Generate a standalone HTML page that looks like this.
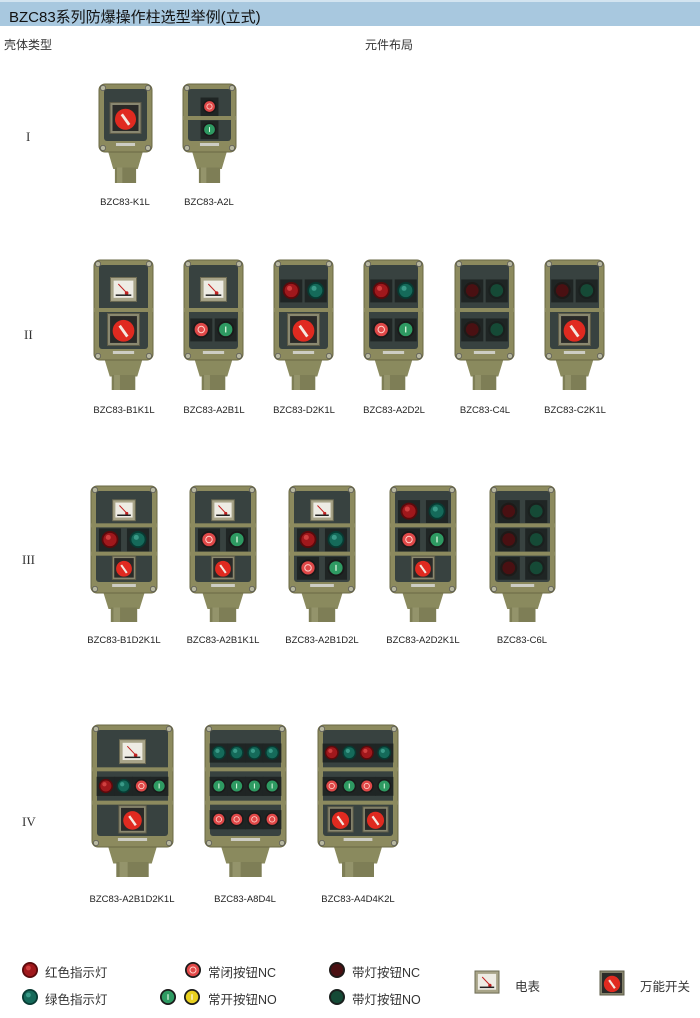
<!DOCTYPE html>
<html><head><meta charset="utf-8"><style>
html,body{margin:0;padding:0;background:#fff;}
body{width:700px;height:1018px;position:relative;overflow:hidden;font-family:"Liberation Sans","Noto Sans CJK SC",sans-serif;}
.hdr{position:absolute;left:0;top:0;width:700px;height:26px;background:#a8c8df;border-top:2px solid #d3e4f0;box-sizing:border-box;}
.hdr span{position:absolute;left:9px;top:4px;font-size:15px;color:#111;}
.t{position:absolute;font-size:12px;color:#333;white-space:nowrap;}
.lb{position:absolute;font-size:9.5px;color:#222;white-space:nowrap;transform:translateX(-50%);}
.rn{position:absolute;font-family:"Liberation Serif",serif;font-size:13px;color:#333;}
.lg{position:absolute;font-size:12.5px;color:#333;white-space:nowrap;}
svg{position:absolute;left:0;top:0;}
</style></head><body>
<div class="hdr"><span>BZC83系列防爆操作柱选型举例(立式)</span></div>
<div class="t" style="left:4px;top:36px">壳体类型</div>
<div class="t" style="left:365px;top:36px">元件布局</div>
<div class="rn" style="left:26px;top:129px">I</div>
<div class="rn" style="left:24px;top:327px">II</div>
<div class="rn" style="left:22px;top:552px">III</div>
<div class="rn" style="left:22px;top:814px">IV</div>

<div class="lb" style="left:125px;top:197px">BZC83-K1L</div>
<div class="lb" style="left:209px;top:197px">BZC83-A2L</div>

<div class="lb" style="left:124px;top:405px">BZC83-B1K1L</div>
<div class="lb" style="left:214px;top:405px">BZC83-A2B1L</div>
<div class="lb" style="left:304px;top:405px">BZC83-D2K1L</div>
<div class="lb" style="left:394px;top:405px">BZC83-A2D2L</div>
<div class="lb" style="left:485px;top:405px">BZC83-C4L</div>
<div class="lb" style="left:575px;top:405px">BZC83-C2K1L</div>

<div class="lb" style="left:124px;top:635px">BZC83-B1D2K1L</div>
<div class="lb" style="left:223px;top:635px">BZC83-A2B1K1L</div>
<div class="lb" style="left:322px;top:635px">BZC83-A2B1D2L</div>
<div class="lb" style="left:423px;top:635px">BZC83-A2D2K1L</div>
<div class="lb" style="left:522px;top:635px">BZC83-C6L</div>

<div class="lb" style="left:132px;top:894px">BZC83-A2B1D2K1L</div>
<div class="lb" style="left:245px;top:894px">BZC83-A8D4L</div>
<div class="lb" style="left:358px;top:894px">BZC83-A4D4K2L</div>

<div class="lg" style="left:45px;top:962px">红色指示灯</div>
<div class="lg" style="left:45px;top:989px">绿色指示灯</div>
<div class="lg" style="left:208px;top:962px">常闭按钮NC</div>
<div class="lg" style="left:208px;top:989px">常开按钮NO</div>
<div class="lg" style="left:352px;top:962px">带灯按钮NC</div>
<div class="lg" style="left:352px;top:989px">带灯按钮NO</div>
<div class="lg" style="left:515px;top:976px">电表</div>
<div class="lg" style="left:640px;top:976px">万能开关</div>

<svg id="s" width="700" height="1018" xmlns="http://www.w3.org/2000/svg"></svg>
<script>
var S=document.getElementById('s'),o='';
function item(t,cx,cy,r,s){
 var h='';
 if(t=='R'){h+='<circle cx="'+cx+'" cy="'+cy+'" r="'+r+'" fill="#5a0a0c"/><circle cx="'+cx+'" cy="'+cy+'" r="'+(r*.78)+'" fill="#a0181c"/><circle cx="'+(cx-r*.2)+'" cy="'+(cy-r*.25)+'" r="'+(r*.3)+'" fill="#d04040"/>';}
 else if(t=='G'){h+='<circle cx="'+cx+'" cy="'+cy+'" r="'+r+'" fill="#083a32"/><circle cx="'+cx+'" cy="'+cy+'" r="'+(r*.78)+'" fill="#156a5a"/><circle cx="'+(cx-r*.2)+'" cy="'+(cy-r*.25)+'" r="'+(r*.3)+'" fill="#3a9a88"/>';}
 else if(t=='DR'){h+='<circle cx="'+cx+'" cy="'+cy+'" r="'+r+'" fill="#1e1a18"/><circle cx="'+cx+'" cy="'+cy+'" r="'+(r*.75)+'" fill="#4a1012"/>';}
 else if(t=='DG'){h+='<circle cx="'+cx+'" cy="'+cy+'" r="'+r+'" fill="#1a201e"/><circle cx="'+cx+'" cy="'+cy+'" r="'+(r*.75)+'" fill="#154a36"/>';}
 else if(t=='nc'){h+='<circle cx="'+cx+'" cy="'+cy+'" r="'+r+'" fill="#1a1a1a"/><circle cx="'+cx+'" cy="'+cy+'" r="'+(r*.78)+'" fill="#e04848"/><circle cx="'+cx+'" cy="'+cy+'" r="'+(r*.38)+'" fill="none" stroke="#ffd0c8" stroke-width="'+(r*.12)+'"/>';}
 else if(t=='no'){h+='<circle cx="'+cx+'" cy="'+cy+'" r="'+r+'" fill="#1a1a1a"/><circle cx="'+cx+'" cy="'+cy+'" r="'+(r*.78)+'" fill="#2e9a62"/><rect x="'+(cx-r*.07)+'" y="'+(cy-r*.35)+'" width="'+(r*.14)+'" height="'+(r*.7)+'" fill="#e8ffe8"/>';}
 else if(t=='Y'){h+='<circle cx="'+cx+'" cy="'+cy+'" r="'+r+'" fill="#1a1a1a"/><circle cx="'+cx+'" cy="'+cy+'" r="'+(r*.78)+'" fill="#e8d020"/><rect x="'+(cx-r*.07)+'" y="'+(cy-r*.35)+'" width="'+(r*.14)+'" height="'+(r*.7)+'" fill="#fff"/>';}
 else if(t=='K'){h+='<rect x="'+(cx-s/2)+'" y="'+(cy-s/2)+'" width="'+s+'" height="'+s+'" fill="#8a8870" stroke="#5e5c48" stroke-width="1"/><rect x="'+(cx-s*.42)+'" y="'+(cy-s*.42)+'" width="'+(s*.84)+'" height="'+(s*.84)+'" fill="#2a2a28"/><circle cx="'+cx+'" cy="'+(cy+s*.04)+'" r="'+(s*.34)+'" fill="#e02a20"/><line x1="'+(cx-s*.12)+'" y1="'+(cy-s*.12)+'" x2="'+(cx+s*.12)+'" y2="'+(cy+s*.22)+'" stroke="#f4e8e0" stroke-width="'+(s*.09)+'"/>';}
 else if(t=='M'){h+='<rect x="'+(cx-s/2)+'" y="'+(cy-s/2)+'" width="'+s+'" height="'+s*.92+'" fill="#a8a488" stroke="#6e6c54" stroke-width="1"/><rect x="'+(cx-s*.38)+'" y="'+(cy-s*.38)+'" width="'+(s*.76)+'" height="'+(s*.66)+'" fill="#eeece4"/><line x1="'+(cx-s*.2)+'" y1="'+(cy-s*.25)+'" x2="'+(cx+s*.15)+'" y2="'+(cy+s*.12)+'" stroke="#c02020" stroke-width="1"/><circle cx="'+(cx+s*.12)+'" cy="'+(cy+s*.1)+'" r="'+(s*.07)+'" fill="#c02020"/><line x1="'+(cx-s*.3)+'" y1="'+(cy+s*.18)+'" x2="'+(cx+s*.3)+'" y2="'+(cy+s*.18)+'" stroke="#222" stroke-width="1.5"/>';}
 return h;
}
function box(x,y,w,bh,nb,rows){
 var h='';
 var nw=w*.5,nx=x+(w-nw)/2;
 h+='<path d="M'+(nx-4)+' '+(y+bh)+' L'+(nx+nw+4)+' '+(y+bh)+' L'+(nx+nw-1)+' '+(y+bh+(nb-y-bh)*.55)+' L'+(nx+1)+' '+(y+bh+(nb-y-bh)*.55)+' Z" fill="#8a8a5e"/>';
 h+='<rect x="'+(nx+nw*.1)+'" y="'+(y+bh+(nb-y-bh)*.5)+'" width="'+(nw*.8)+'" height="'+((nb-y-bh)*.5)+'" fill="#7e7e56"/>';
 h+='<rect x="'+(nx+nw*.18)+'" y="'+(y+bh+(nb-y-bh)*.5)+'" width="'+(nw*.2)+'" height="'+((nb-y-bh)*.5)+'" fill="#a4a47a" opacity=".6"/>';
 h+='<rect x="'+x+'" y="'+y+'" width="'+w+'" height="'+bh+'" rx="6" fill="#8c8a5e" stroke="#6a6844" stroke-width="1"/>';
 var px=x+5,py=y+5,pw=w-10,ph=bh-16;
 h+='<rect x="'+px+'" y="'+py+'" width="'+pw+'" height="'+ph+'" rx="3" fill="#384240"/>';
 [[x+4,y+4],[x+w-4,y+4],[x+4,y+bh-4],[x+w-4,y+bh-4]].forEach(function(p){h+='<circle cx="'+p[0]+'" cy="'+p[1]+'" r="2.6" fill="#b8b8a0" stroke="#555" stroke-width=".7"/>';});
 h+='<rect x="'+(x+w/2-w*.18)+'" y="'+(y+bh-9)+'" width="'+(w*.36)+'" height="3" fill="#ddd" opacity=".8"/>';
 var n=rows.length, rh=(ph-6)/n;
 for(var i=0;i<n;i++){
  var cy=py+6+rh*(i+.5), r=rows[i];
  if(i>0) h+='<rect x="'+x+'" y="'+(py+6+rh*i-2)+'" width="'+w+'" height="4" fill="#8c8a5e"/>';
  var k=r.length, cw=pw/k;
  var rad=Math.min(cw*.4,rh*.3,8.5);
  for(var j=0;j<k;j++){
   var cx=px+cw*(j+.5),t=r[j];
   if(t=='K'){var s=Math.min(cw*.72,rh*.82,32);h+=item(t,cx,cy,0,s);}
   else if(t=='M'){var s=Math.min(cw*.55,rh*.8,26);h+=item(t,cx,cy,0,s);}
   else{
    h+='<rect x="'+(cx-rad*1.3)+'" y="'+(cy-rad*1.3)+'" width="'+(rad*2.6)+'" height="'+(rad*2.7)+'" fill="#1f2524"/>';
    h+=item(t,cx,cy,rad);
   }
  }
 }
 return h;
}
var B=[
 [99,84,53,68,183,[['K']]],
 [183,84,53,68,183,[['nc'],['no']]],
 [94,260,59,100,390,[['M'],['K']]],
 [184,260,59,100,390,[['M'],['nc','no']]],
 [274,260,59,100,390,[['R','G'],['K']]],
 [364,260,59,100,390,[['R','G'],['nc','no']]],
 [455,260,59,100,390,[['DR','DG'],['DR','DG']]],
 [545,260,59,100,390,[['DR','DG'],['K']]],
 [91,486,66,107,622,[['M'],['R','G'],['K']]],
 [190,486,66,107,622,[['M'],['nc','no'],['K']]],
 [289,486,66,107,622,[['M'],['R','G'],['nc','no']]],
 [390,486,66,107,622,[['R','G'],['nc','no'],['K']]],
 [490,486,65,107,622,[['DR','DG'],['DR','DG'],['DR','DG']]],
 [92,725,81,122,877,[['M'],['R','G','nc','no'],['K']]],
 [205,725,81,122,877,[['G','G','G','G'],['no','no','no','no'],['nc','nc','nc','nc']]],
 [318,725,80,122,877,[['R','G','R','G'],['nc','no','nc','no'],['K','K']]]
];
B.forEach(function(b){o+=box.apply(null,b);});
o+=item('R',30,970,8)+item('G',30,997,8)+item('nc',193,970,8)+item('no',168,997,8)+item('Y',192,997,8)+item('DR',337,970,8)+item('DG',337,997,8)+item('M',487,983,0,24)+item('K',612,983,0,24);
S.innerHTML=o;
</script>
</body></html>
